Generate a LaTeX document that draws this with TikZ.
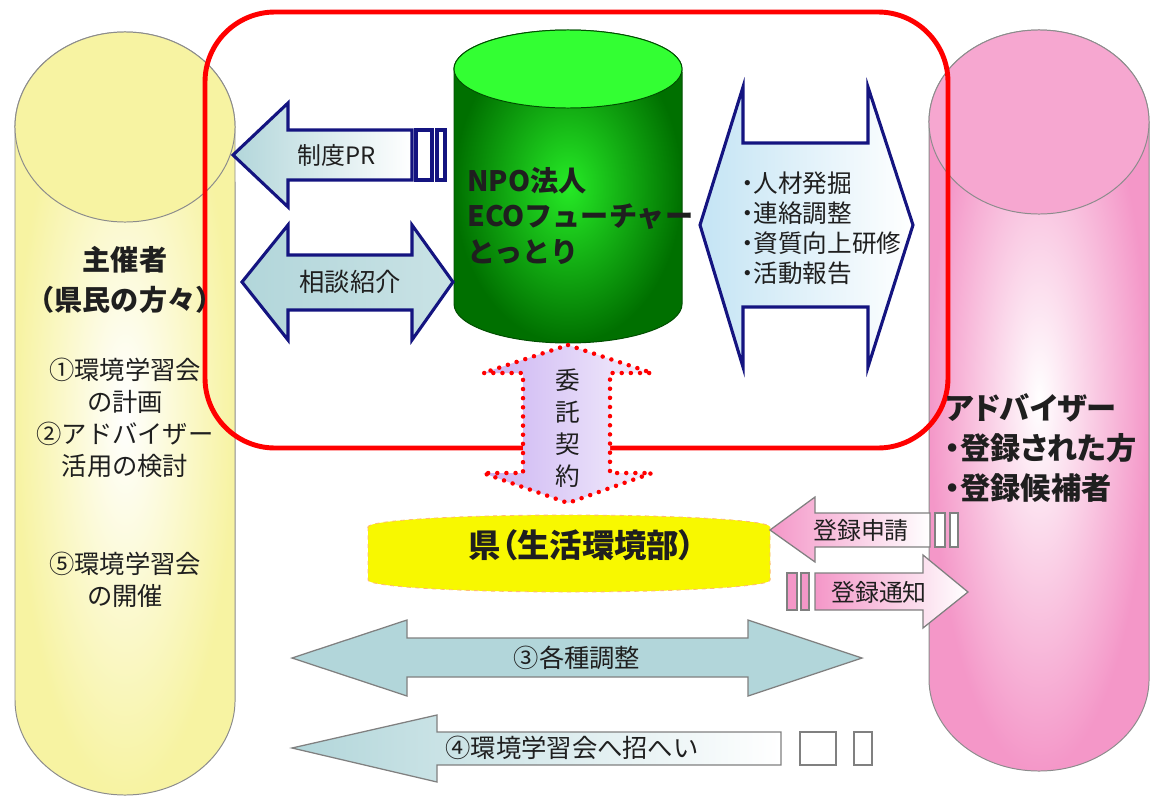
\documentclass[tikz,border=0pt]{standalone}
\usepackage{fontspec}
\setmainfont{Noto Sans CJK JP}
\newfontfamily\jpnarrow[RawFeature=+palt]{Noto Sans CJK JP}
\definecolor{navy}{HTML}{141480}
\definecolor{hostyellow}{HTML}{F7F3A2}
\definecolor{advpink}{HTML}{F497C8}
\definecolor{npogreen}{HTML}{26EA26}
\definecolor{npodark}{HTML}{007000}
\definecolor{npotop}{HTML}{33FF33}
\definecolor{paleblue}{HTML}{C4E4F4}
\definecolor{palecyan}{HTML}{B2D6DA}
\definecolor{lavender}{HTML}{CBB3F2}
\definecolor{prefyellow}{HTML}{F8F800}

\begin{document}
\begin{tikzpicture}[x=0.025cm, y=-0.025cm,
    every node/.style={inner sep=0pt, align=center, text=black!88},
    navyarrow/.style={draw=navy, line width=2.2pt},
    grayarrow/.style={draw=black!50, line width=0.9pt},
    body/.style={font=\fontsize{18}{22.9}\selectfont},
    small/.style={font=\fontsize{17}{20}\selectfont},
    head/.style={font=\bfseries\fontsize{20}{28.3}\selectfont}]
\useasboundingbox (0,0) rectangle (1152,796);

% host cylinder, left
\draw[black!45, line width=0.7pt, inner color=white, outer color=hostyellow]
  (15,127) -- (15,700) arc[start angle=180, end angle=360, x radius=2.75cm, y radius=2.375cm]
  -- (235,127) arc[start angle=0, end angle=180, x radius=2.75cm, y radius=2.375cm] -- cycle;
\draw[black!45, line width=0.7pt, fill=hostyellow] (125,127) ellipse [x radius=2.75cm, y radius=2.375cm];

% adviser cylinder, right
\draw[black!45, line width=0.7pt, inner color=white, outer color=advpink]
  (929,122) -- (929,679) arc[start angle=180, end angle=360, x radius=2.75cm, y radius=2.3cm]
  -- (1149,122) arc[start angle=0, end angle=180, x radius=2.75cm, y radius=2.3cm] -- cycle;
\draw[black!45, line width=0.7pt, fill=advpink!85!white] (1039,122) ellipse [x radius=2.75cm, y radius=2.3cm];

% red frame
\draw[red, line width=3.5pt, rounded corners=1.75cm] (205,12) rectangle (948,448);

% NPO cylinder
\draw[npodark!70!black, line width=0.7pt, inner color=npogreen, outer color=npodark]
  (454,69) -- (454,304) arc[start angle=180, end angle=360, x radius=2.85cm, y radius=0.975cm]
  -- (682,69) arc[start angle=0, end angle=180, x radius=2.85cm, y radius=0.975cm] -- cycle;
\draw[npodark!70!black, line width=0.7pt, fill=npotop] (568,69) ellipse [x radius=2.85cm, y radius=0.975cm];

% blue arrows
\draw[navyarrow, left color=palecyan, right color=white]
  (233,155) -- (288,103) -- (288,130) -- (412,130) -- (412,180) -- (288,180) -- (288,207) -- cycle;
\draw[navyarrow, fill=white] (416,130) rectangle (432,180);
\draw[navyarrow, fill=white] (437,130) rectangle (445,180);
\draw[navyarrow, left color=palecyan, middle color=white, right color=palecyan!70!white]
  (242,282) -- (288,225) -- (288,255) -- (412,255) -- (412,225) -- (453,282)
  -- (412,340) -- (412,310) -- (288,310) -- (288,340) -- cycle;
\draw[navyarrow, left color=paleblue, right color=white]
  (700,225) -- (743,87) -- (743,143) -- (868,143) -- (868,87) -- (913,225)
  -- (868,367) -- (868,307) -- (743,307) -- (743,367) -- cycle;

% contract arrow
\draw[red, line width=3.2pt, line cap=round, dash pattern=on 0pt off 6.5pt, left color=lavender, right color=lavender!20!white]
  (568,345) -- (652,373) -- (610,373) -- (610,473) -- (652,473) -- (568,503)
  -- (483,473) -- (523,473) -- (523,373) -- (483,373) -- cycle;

% prefecture disk
\draw[orange!55, dashed, line width=0.6pt, fill=prefyellow]
  (368,527) -- (368,580) arc[start angle=180, end angle=360, x radius=5.025cm, y radius=0.3cm]
  -- (770,527) arc[start angle=0, end angle=180, x radius=5.025cm, y radius=0.3cm] -- cycle;

% pink arrows
\draw[grayarrow, left color=advpink, right color=white]
  (770,530) -- (815,497) -- (815,513) -- (930,513) -- (930,547) -- (815,547) -- (815,562) -- cycle;
\draw[grayarrow, fill=white] (935,513) rectangle (945,547);
\draw[grayarrow, fill=white] (950,513) rectangle (958,547);
\draw[grayarrow, fill=advpink] (787,573) rectangle (797,610);
\draw[grayarrow, fill=advpink] (801,573) rectangle (809,610);
\draw[grayarrow, left color=advpink, right color=white]
  (815,573) -- (923,573) -- (923,555) -- (968,592) -- (923,628) -- (923,610) -- (815,610) -- cycle;

% bottom arrows
\draw[grayarrow, left color=palecyan, middle color=palecyan!30!white, right color=palecyan]
  (292,658) -- (407,620) -- (407,638) -- (748,638) -- (748,620) -- (862,658)
  -- (748,696) -- (748,677) -- (407,677) -- (407,696) -- cycle;
\draw[grayarrow, left color=palecyan, right color=white]
  (292,748) -- (437,715) -- (437,732) -- (781,732) -- (781,765) -- (437,765) -- (437,782) -- cycle;
\draw[grayarrow, fill=white] (800,732) rectangle (836,765);
\draw[grayarrow, fill=white] (854,732) rectangle (872,765);

% texts
\node[head] (host) at (125,280) {主催者\\（県民の方々）};
\node[body] (plan) at (125,418) {①環境学習会\\の計画\\②アドバイザー\\活用の検討};
\node[body] (hold) at (125,580) {⑤環境学習会\\の開催};
\node[font=\jpnarrow\bfseries\fontsize{21.5}{28.3}\selectfont, align=left, anchor=west] (adviser) at (945,448) {アドバイザー\\・登録された方\\・登録候補者};
\node[font=\bfseries\fontsize{20}{25.5}\selectfont, align=left, anchor=west] (npo) at (467,216) {NPO法人\\ECOフューチャー\\とっとり};
\node[small] (pr) at (337,155) {制度PR};
\node[body] (consult) at (350,282) {相談紹介};
\node[font=\jpnarrow\fontsize{17.5}{21.3}\selectfont, align=left, anchor=west] (tasks) at (741,228) {・人材発掘\\・連絡調整\\・資質向上研修\\・活動報告};
\node[font=\fontsize{17.5}{22.9}\selectfont] (contract) at (568,428) {委\\託\\契\\約};
\node[font=\jpnarrow\bfseries\fontsize{23}{26}\selectfont] (pref) at (582,545) {県（生活環境部）};
\node[small] (apply) at (861,530) {登録申請};
\node[small] (notice) at (879,592) {登録通知};
\node[body] (adjust) at (577,658) {③各種調整};
\node[body] (invite) at (572,748) {④環境学習会へ招へい};
\end{tikzpicture}
\end{document}
